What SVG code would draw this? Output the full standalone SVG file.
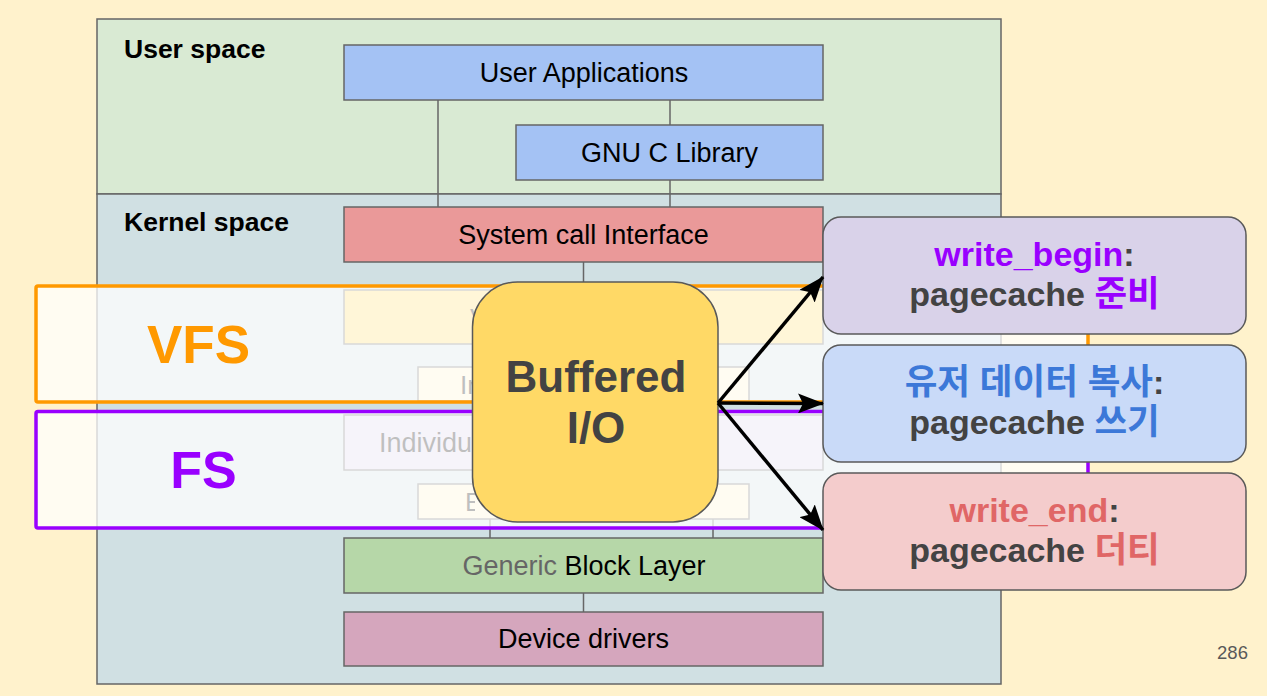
<svg xmlns="http://www.w3.org/2000/svg" width="1267" height="696" viewBox="0 0 1267 696">
<defs>
<style>
text{font-family:"Liberation Sans","Noto Sans CJK KR",Arial,sans-serif}
.lbl{font-size:27px;fill:#000;text-anchor:middle}
.hdr{font-size:26.5px;font-weight:bold;fill:#000}
.box{stroke:#666;stroke-width:1.5}
.conn{stroke:#666;stroke-width:1.5;fill:none}
.ov{fill:#fff;fill-opacity:0.75;stroke-width:3.5}
.rb{stroke:#595959;stroke-width:1.5}
.rt{font-size:34px;font-weight:bold;fill:#434343;text-anchor:middle}
.ko{font-size:35.5px}
.arr{stroke:#000;stroke-width:3.5;fill:none;marker-end:url(#ah)}
.hid{text-anchor:start;font-size:26px}
</style>
<clipPath id="leftOfBuf"><rect x="340" y="280" width="135" height="250"/></clipPath>
<marker id="ah" markerUnits="userSpaceOnUse" markerWidth="26" markerHeight="20" refX="25" refY="10" orient="auto">
<path d="M0,0 L26,10 L0,20 L5,10 z" fill="#000"/>
</marker>
</defs>
<rect x="0" y="0" width="1267" height="696" fill="#fff2cc"/>

<g id="panel">
<rect x="97" y="19" width="904" height="175" fill="#d9ead3" class="box"/>
<rect x="97" y="194" width="904" height="490" fill="#d0e0e3" class="box"/>
<text x="124" y="58" class="hdr">User space</text>
<text x="124" y="231" class="hdr">Kernel space</text>
</g>

<g id="connectors">
<line x1="438" y1="100" x2="438" y2="207" class="conn"/>
<line x1="670" y1="100" x2="670" y2="125" class="conn"/>
<line x1="670" y1="180" x2="670" y2="207" class="conn"/>
<line x1="583.5" y1="262" x2="583.5" y2="290" class="conn"/>
<line x1="490" y1="519" x2="490" y2="538" class="conn"/>
<line x1="713" y1="519" x2="713" y2="538" class="conn"/>
<line x1="583.5" y1="593" x2="583.5" y2="612" class="conn"/>
</g>

<g id="user-applications">
<rect x="344" y="45" width="479" height="55" fill="#a4c2f4" class="box"/>
<text x="584" y="82" class="lbl">User Applications</text>
</g>
<g id="gnu-c-library">
<rect x="516" y="125" width="307" height="55" fill="#a4c2f4" class="box"/>
<text x="669.5" y="162" class="lbl">GNU C Library</text>
</g>
<g id="system-call-interface">
<rect x="344" y="207" width="479" height="55" fill="#ea9999" class="box"/>
<text x="583.5" y="244" class="lbl">System call Interface</text>
</g>
<g id="vfs-box">
<rect x="344" y="290" width="479" height="54" fill="#ffd966" class="box"/>
<text x="470" y="327" class="lbl hid" clip-path="url(#leftOfBuf)">Virtual File System</text>
</g>
<g id="inode-cache">
<rect x="418" y="367" width="331" height="34" fill="#fff2cc" class="box"/>
<text x="460" y="394" class="lbl hid" clip-path="url(#leftOfBuf)">Inode Cache</text>
</g>
<g id="individual-fs">
<rect x="344" y="415" width="479" height="55" fill="#d9d2e9" class="box"/>
<text x="379" y="452" class="lbl hid" style="font-size:27px" clip-path="url(#leftOfBuf)">Individual File Systems</text>
</g>
<g id="buffer-cache">
<rect x="418" y="484" width="331" height="35" fill="#fff2cc" class="box"/>
<text x="465" y="511" class="lbl hid" clip-path="url(#leftOfBuf)">Buffer Cache</text>
</g>
<g id="generic-block-layer">
<rect x="344" y="538" width="479" height="55" fill="#b6d7a8" class="box"/>
<text x="584" y="575" class="lbl"><tspan fill="#666">Generic</tspan> Block Layer</text>
</g>
<g id="device-drivers">
<rect x="344" y="612" width="479" height="54" fill="#d5a6bd" class="box"/>
<text x="583.5" y="648" class="lbl">Device drivers</text>
</g>

<g id="vfs-overlay">
<rect x="36" y="286" width="1052" height="116" rx="2" class="ov" stroke="#ff9900"/>
<text x="198.5" y="363" style="font-size:53px;font-weight:bold;fill:#ff9900;text-anchor:middle">VFS</text>
</g>
<g id="fs-overlay">
<rect x="36" y="411.5" width="1052" height="116.5" rx="2" class="ov" stroke="#9900ff"/>
<text x="203.5" y="488" style="font-size:52px;font-weight:bold;fill:#9900ff;text-anchor:middle">FS</text>
</g>

<g id="buffered-io">
<rect x="472.5" y="282" width="245.5" height="240" rx="45" fill="#ffd966" stroke="#595959" stroke-width="1.5"/>
<text x="596" y="392" style="font-size:44px;font-weight:bold;fill:#434343;text-anchor:middle">Buffered</text>
<text x="596" y="443" style="font-size:44px;font-weight:bold;fill:#434343;text-anchor:middle">I/O</text>
</g>

<g id="write-begin">
<rect x="823" y="217" width="423" height="117" rx="18" fill="#d9d2e9" class="rb"/>
<text x="1034.5" y="266" class="rt"><tspan fill="#9900ff">write_begin</tspan>:</text>
<text x="1034.5" y="306" class="rt">pagecache <tspan fill="#9900ff" class="ko">준비</tspan></text>
</g>
<g id="copy-user-data">
<rect x="823" y="345" width="423" height="117" rx="18" fill="#c9daf8" class="rb"/>
<text x="1034.5" y="394" class="rt"><tspan fill="#3c78d8" class="ko">유저 데이터 복사</tspan>:</text>
<text x="1034.5" y="434" class="rt">pagecache <tspan fill="#3c78d8" class="ko">쓰기</tspan></text>
</g>
<g id="write-end">
<rect x="823" y="473" width="423" height="117" rx="18" fill="#f4cccc" class="rb"/>
<text x="1034.5" y="522" class="rt"><tspan fill="#e06666">write_end</tspan>:</text>
<text x="1034.5" y="562" class="rt">pagecache <tspan fill="#e06666" class="ko">더티</tspan></text>
</g>

<g id="arrows">
<line x1="718" y1="403" x2="823" y2="277" class="arr"/>
<line x1="718" y1="403" x2="823" y2="403.5" class="arr"/>
<line x1="718" y1="403" x2="823" y2="530" class="arr"/>
</g>

<text x="1232.5" y="659" style="font-size:18.5px;fill:#595959;text-anchor:middle">286</text>
</svg>
